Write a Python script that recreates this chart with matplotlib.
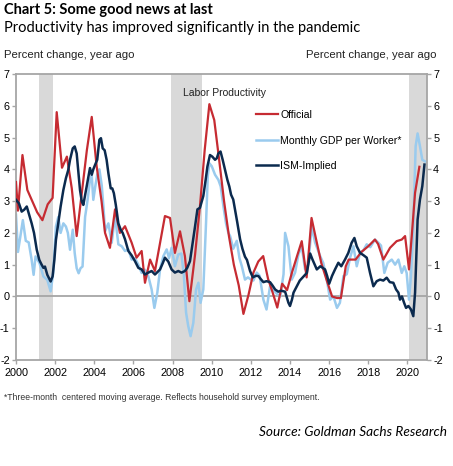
import matplotlib
matplotlib.use("Agg")
import matplotlib.pyplot as plt

plt.rcParams["axes.unicode_minus"] = False

# --- data ---
official_years = [2000.0, 2000.1, 2000.33, 2000.58, 2000.83, 2001.08, 2001.35, 2001.62, 2001.87,
                  2002.08, 2002.35, 2002.6, 2002.85, 2003.1, 2003.37, 2003.62, 2003.87,
                  2004.12, 2004.37, 2004.55, 2004.8, 2005.06, 2005.31, 2005.57, 2005.91,
                  2006.16, 2006.42, 2006.59, 2006.85, 2007.1, 2007.61, 2007.87,
                  2008.12, 2008.38, 2008.63, 2008.86, 2009.15, 2009.4, 2009.64, 2009.88,
                  2010.13, 2010.38, 2010.63, 2010.88, 2011.13, 2011.38, 2011.62, 2011.88,
                  2012.13, 2012.38, 2012.63, 2012.88, 2013.1, 2013.35, 2013.6, 2013.85,
                  2014.1, 2014.35, 2014.6, 2014.85, 2015.1, 2015.35, 2015.6, 2015.88,
                  2016.15, 2016.4, 2016.6, 2016.85, 2017.0, 2017.35, 2017.65, 2018.0,
                  2018.34, 2018.5, 2018.77, 2019.11, 2019.45, 2019.71, 2019.88,
                  2020.08, 2020.22, 2020.39, 2020.61]
official = [3.6, 2.7, 4.45, 3.35, 3.0, 2.65, 2.4, 2.9, 3.1,
            5.8, 4.05, 4.4, 3.4, 1.9, 3.3, 4.6, 5.65,
            4.1, 3.0, 2.0, 1.53, 2.74, 2.0, 2.21, 1.69,
            1.22, 1.43, 0.43, 1.16, 0.8, 2.53, 2.47,
            1.37, 2.05, 1.27, -0.15, 1.32, 2.84, 4.6, 6.05,
            5.55, 4.3, 3.0, 1.9, 1.0, 0.35, -0.55, 0.05,
            0.75, 1.1, 1.27, 0.55, 0.15, -0.35, 0.4, 0.2,
            0.75, 1.25, 1.74, 0.6, 2.47, 1.75, 1.05, 0.5,
            0.0, -0.05, -0.05, 0.95, 1.16, 1.16, 1.4, 1.58,
            1.79, 1.65, 1.16, 1.53, 1.74, 1.79, 1.9,
            0.85, 1.9, 3.26, 4.08]

gdp_years = [2000.0, 2000.1, 2000.2, 2000.35, 2000.5, 2000.65, 2000.8, 2000.9, 2001.0, 2001.2,
             2001.4, 2001.6, 2001.77, 2001.9, 2002.04, 2002.16, 2002.28, 2002.42, 2002.55,
             2002.65, 2002.76, 2002.9, 2003.0, 2003.1, 2003.2, 2003.3, 2003.4, 2003.53,
             2003.65, 2003.78, 2003.87, 2003.95, 2004.05, 2004.15, 2004.26, 2004.38,
             2004.47, 2004.55, 2004.72, 2004.89, 2005.06, 2005.23, 2005.4, 2005.57,
             2005.74, 2005.91, 2006.08, 2006.25, 2006.42, 2006.59, 2006.76, 2006.93,
             2007.07, 2007.22, 2007.36, 2007.53, 2007.7, 2007.82, 2007.95, 2008.12,
             2008.29, 2008.45, 2008.58, 2008.69, 2008.8, 2008.92, 2009.06, 2009.2,
             2009.32, 2009.43, 2009.57, 2009.71, 2009.8, 2009.88, 2010.0, 2010.17,
             2010.34, 2010.46, 2010.6, 2010.73, 2010.85, 2010.94, 2011.1, 2011.28,
             2011.42, 2011.54, 2011.7, 2011.85, 2011.96, 2012.13, 2012.3, 2012.45,
             2012.64, 2012.8, 2012.98, 2013.15, 2013.3, 2013.5, 2013.67, 2013.75,
             2013.92, 2014.09, 2014.26, 2014.43, 2014.6, 2014.77, 2014.93, 2015.11,
             2015.28, 2015.54, 2015.7, 2015.88, 2016.05, 2016.22, 2016.4, 2016.55,
             2016.73, 2016.9, 2017.07, 2017.24, 2017.41, 2017.58, 2017.75, 2017.92,
             2018.1, 2018.34, 2018.5, 2018.65, 2018.82, 2018.99, 2019.2, 2019.37,
             2019.54, 2019.71, 2019.84, 2019.96, 2020.08, 2020.18, 2020.3, 2020.42,
             2020.52, 2020.64, 2020.76, 2020.9]
gdp_worker = [2.57, 1.4, 1.8, 2.4, 1.75, 1.7, 1.15, 0.68, 1.26, 1.05,
              0.63, 0.52, 0.16, 0.73, 2.2, 2.5, 2.0, 2.3, 2.2,
              2.0, 1.47, 2.1, 1.36, 0.89, 0.73, 0.89, 0.94, 2.5,
              3.0, 3.67, 3.8, 3.04, 3.46, 3.83, 4.0, 3.5,
              2.8, 2.05, 2.3, 1.69, 2.53, 1.64, 1.58, 1.43,
              1.48, 1.16, 1.2, 1.0, 0.74, 0.84, 0.64, 0.22,
              -0.36, 0.12, 0.85, 1.27, 1.48, 1.2, 1.53, 0.95,
              1.32, 1.35, 0.64, -0.51, -0.93, -1.25, -0.83, 0.22,
              0.43, -0.2, 0.22, 2.32, 3.8, 4.19, 4.1, 3.83,
              3.67, 3.46, 2.83, 2.3, 2.0, 1.9, 1.5, 1.75,
              1.2, 0.95, 0.53, 0.6, 0.55, 0.5, 0.75, 0.65,
              -0.1, -0.41, 0.32, 0.2, 0.1, 0.0, 0.7, 2.0,
              1.58, 0.53, 0.75, 1.32, 1.58, 0.85, 1.0, 2.2,
              1.7, 1.27, 1.05, 0.53, -0.1, 0.0, -0.36, -0.2,
              0.64, 0.7, 1.22, 1.58, 0.95, 1.37, 1.45, 1.64,
              1.55, 1.79, 1.7, 1.6, 0.74, 1.06, 1.16, 1.0,
              1.16, 0.74, 0.95, 0.74, -0.1, 0.64, 2.2, 4.73,
              5.13, 4.73, 4.3, 4.25]

ism_years = [2000.0, 2000.15, 2000.29, 2000.42, 2000.55, 2000.67, 2000.8, 2000.92, 2001.06, 2001.19,
             2001.31, 2001.4, 2001.48, 2001.6, 2001.77, 2001.87, 2001.96, 2002.04, 2002.16,
             2002.28, 2002.42, 2002.55, 2002.67, 2002.76, 2002.9, 2003.0, 2003.1, 2003.19,
             2003.27, 2003.36, 2003.44, 2003.58, 2003.7, 2003.78, 2003.87, 2003.95, 2004.04,
             2004.15, 2004.26, 2004.34, 2004.43, 2004.53, 2004.63, 2004.72, 2004.84,
             2004.92, 2005.0, 2005.1, 2005.23, 2005.35, 2005.45, 2005.57, 2005.74, 2005.9,
             2006.08, 2006.25, 2006.42, 2006.59, 2006.76, 2006.93, 2007.1, 2007.36, 2007.5,
             2007.61, 2007.78, 2007.95, 2008.12, 2008.29, 2008.46, 2008.63, 2008.75,
             2008.89, 2009.03, 2009.15, 2009.27, 2009.4, 2009.57, 2009.69, 2009.78,
             2009.91, 2010.03, 2010.17, 2010.26, 2010.34, 2010.45, 2010.56, 2010.68,
             2010.8, 2010.9, 2010.99, 2011.1, 2011.3, 2011.45, 2011.57, 2011.7, 2011.8,
             2011.96, 2012.1, 2012.25, 2012.39, 2012.5, 2012.64, 2012.8, 2012.98, 2013.1,
             2013.24, 2013.4, 2013.55, 2013.75, 2013.92, 2014.0, 2014.1, 2014.18, 2014.35,
             2014.5, 2014.65, 2014.86, 2015.03, 2015.15, 2015.37, 2015.55, 2015.79, 2015.9,
             2016.0, 2016.15, 2016.3, 2016.47, 2016.62, 2016.81, 2016.98, 2017.15, 2017.29,
             2017.41, 2017.58, 2017.75, 2017.92, 2018.09, 2018.26, 2018.43, 2018.6,
             2018.77, 2018.94, 2019.1, 2019.28, 2019.42, 2019.54, 2019.62, 2019.72,
             2019.83, 2019.93, 2020.05, 2020.18, 2020.3, 2020.39, 2020.52, 2020.64,
             2020.76, 2020.87]
ism = [3.04, 2.93, 2.67, 2.73, 2.83, 2.57, 2.3, 2.0, 1.47, 1.15,
       1.0, 0.9, 0.94, 0.68, 0.47, 0.63, 1.15, 1.78, 2.3,
       2.83, 3.35, 3.72, 3.98, 4.3, 4.66, 4.72, 4.5, 3.88,
       3.35, 2.99, 2.88, 3.35, 3.77, 4.04, 3.83, 4.0, 4.14,
       4.3, 4.93, 4.98, 4.66, 4.6, 4.3, 3.88, 3.4,
       3.4, 3.25, 2.88, 2.3, 2.1, 2.0, 1.8, 1.43, 1.3,
       1.11, 0.9, 0.85, 0.69, 0.75, 0.8, 0.69, 0.85, 1.05,
       1.22, 1.1, 0.85, 0.75, 0.8, 0.75, 0.8, 0.9,
       1.11, 1.69, 2.21, 2.74, 2.79, 3.16, 3.67, 4.09,
       4.45, 4.4, 4.3, 4.35, 4.5, 4.56, 4.3, 3.98,
       3.67, 3.46, 3.2, 3.05, 2.35, 1.8, 1.5, 1.25, 1.15,
       0.8, 0.6, 0.65, 0.64, 0.55, 0.45, 0.48, 0.45, 0.35,
       0.22, 0.15, 0.18, 0.15, -0.2, -0.3, -0.1, 0.12, 0.32,
       0.5, 0.6, 0.74, 1.35, 1.16, 0.85, 0.95, 0.85, 0.64,
       0.4, 0.65, 0.85, 1.06, 0.95, 1.16, 1.37, 1.69, 1.84,
       1.58, 1.37, 1.3, 1.22, 0.74, 0.32, 0.48, 0.53,
       0.5, 0.59, 0.45, 0.43, 0.22, 0.12, -0.1, 0.0,
       -0.2, -0.36, -0.3, -0.41, -0.62, 0.12, 2.42, 3.05,
       3.47, 4.15]

recessions = [(2001.17, 2001.9), (2007.92, 2009.5), (2020.1, 2021.0)]
year_ticks = list(range(2000, 2021, 2))
value_ticks = list(range(-2, 8))

RED = "#C62B32"
LIGHT = "#9ACBEE"
NAVY = "#0B2A4E"
GRID = "#A6A6A6"
sans = ["Liberation Sans", "DejaVu Sans"]
head = ["Lato", "DejaVu Sans"]

fig = plt.figure(figsize=(4.53, 4.66), dpi=100)
ax = fig.add_axes([16 / 453, 1 - 360 / 466, 411 / 453, 286 / 466])

for start, end in recessions:
    ax.axvspan(start, end, color="#D9D9D9", lw=0, zorder=0)
ax.axhline(0, color=GRID, lw=1.3, zorder=1)

ax.plot(official_years, official, color=RED, lw=1.6, zorder=3, label="Official")
ax.plot(gdp_years, gdp_worker, color=LIGHT, lw=1.8, zorder=2, label="Monthly GDP per Worker*")
ax.plot(ism_years, ism, color=NAVY, lw=1.8, zorder=4, label="ISM-Implied")

ax.set_xlim(2000, 2021)
ax.set_ylim(-2, 7)
ax.set_xticks(year_ticks)
ax.set_yticks(value_ticks)
ax.tick_params(direction="out", length=3, width=1, color=GRID, labelsize=7.8,
               left=True, right=True, labelright=True, pad=1.5)
ax.tick_params(axis="x", pad=3)
for t in ax.xaxis.get_major_ticks() + ax.yaxis.get_major_ticks():
    t.label1.set_family(sans)
    t.label2.set_family(sans)
for s in ax.spines.values():
    s.set_color(GRID)
    s.set_linewidth(1.3)

ax.text(0.406, 0.934, "Labor Productivity", transform=ax.transAxes, fontsize=7.5,
        family=sans, va="center", ha="left", color="#222222")
ax.legend(loc="upper left", bbox_to_anchor=(0.584, 0.874), frameon=False,
          prop={"family": sans, "size": 7.6}, handlelength=2.1, handletextpad=0.2,
          labelspacing=1.47, borderpad=0, borderaxespad=0)

fig.text(4 / 453, 1 - 10 / 466, "Chart 5: Some good news at last", fontsize=10.5,
         fontweight="bold", family=head, va="center", ha="left")
fig.text(4 / 453, 1 - 28 / 466, "Productivity has improved significantly in the pandemic",
         fontsize=10.5, family=head, va="center", ha="left")
fig.text(4 / 453, 1 - 55 / 466, "Percent change, year ago", fontsize=8.2, family=sans,
         va="center", ha="left", color="#222222")
fig.text(437 / 453, 1 - 55 / 466, "Percent change, year ago", fontsize=8.2, family=sans,
         va="center", ha="right", color="#222222")
fig.text(4 / 453, 1 - 398 / 466,
         "*Three-month  centered moving average. Reflects household survey employment.",
         fontsize=6.2, family=sans, va="center", ha="left", color="#333333")
fig.text(447 / 453, 1 - 432 / 466, "Source: Goldman Sachs Research", fontsize=9.8,
         style="italic", family=head, va="center", ha="right")

fig.savefig("out.png", dpi=100)
